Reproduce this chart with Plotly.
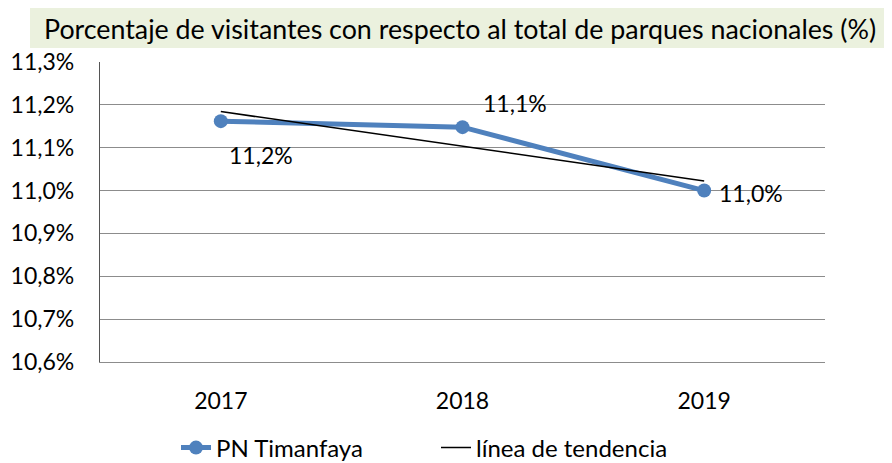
import numpy as np
import plotly.graph_objects as go

years = ["2017", "2018", "2019"]
values = [11.162, 11.148, 11.0]
labels = ["11,2%", "11,1%", "11,0%"]
title_text = "Porcentaje de visitantes con respecto al total de parques nacionales (%)"

# linear trend line from the data
xi = np.arange(len(values))
slope, intercept = np.polyfit(xi, values, 1)
trend = list(intercept + slope * xi)

FONT = "Lato"
BLUE = "#4F81BD"
GRID = "#8C8C8C"

# page has an 8px body margin; figure coords = page coords - 8
L, T, W, H = 92, 54, 884, 455
PW, PH = 725, 300

fig = go.Figure()
fig.add_trace(go.Scatter(
    x=years, y=values, name="PN Timanfaya", mode="lines+markers",
    line=dict(color=BLUE, width=5), marker=dict(color=BLUE, size=14),
))
fig.add_trace(go.Scatter(
    x=years, y=trend, name="línea de tendencia", mode="lines",
    line=dict(color="black", width=1.5),
))

shifts = [(40, -34), (52, 24), (47, -2)]
for i, (v, lab, (dx, dy)) in enumerate(zip(values, labels, shifts)):
    fig.add_annotation(x=i, y=v, xref="x", yref="y", text=lab, showarrow=False,
                       xshift=dx, yshift=dy,
                       font=dict(family=FONT, size=23, color="black"))

# title box (page px -> paper coords)
def px(xp):
    return (xp - 8 - L) / PW

def py(yp):
    return (T + PH - (yp - 8)) / PH

fig.add_shape(type="rect", xref="paper", yref="paper",
              x0=px(30), x1=px(892), y0=py(48), y1=py(8),
              fillcolor="#EBF1DE", line=dict(width=0), layer="below")
fig.add_annotation(xref="paper", yref="paper", x=px(460), y=py(29),
                   xanchor="center", yanchor="middle", text=title_text, showarrow=False,
                   font=dict(family=FONT, size=26.8, color="black"))

fig.update_layout(
    width=W, height=H,
    margin=dict(l=L, r=W - L - PW, t=T, b=H - T - PH, autoexpand=False),
    paper_bgcolor="white", plot_bgcolor="white",
    separators=",.",
    font=dict(family=FONT, size=23, color="black"),
    showlegend=True,
    legend=dict(orientation="h", x=px(436), xanchor="center", y=py(448), yanchor="middle",
                font=dict(family=FONT, size=24), entrywidth=215),
    xaxis=dict(type="category", range=[-0.5, 2.5], showgrid=False,
               showline=True, linecolor=GRID, linewidth=1,
               ticks="outside", ticklen=18, tickcolor="rgba(0,0,0,0)",
               tickfont=dict(size=23), automargin=False),
    yaxis=dict(range=[10.6, 11.3], dtick=0.1, tick0=10.6, tickformat=".1f", ticksuffix="%",
               showgrid=True, gridcolor=GRID, gridwidth=1,
               showline=True, linecolor="#555555", linewidth=1.3,
               ticks="outside", ticklen=20, tickcolor="rgba(0,0,0,0)", zeroline=False,
               tickfont=dict(size=23), automargin=False),
)

fig.write_html("out.html")
